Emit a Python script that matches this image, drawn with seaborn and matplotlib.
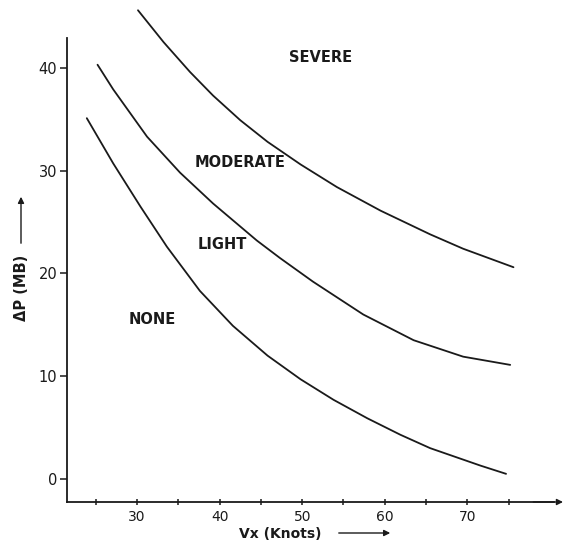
import matplotlib
matplotlib.use("Agg")
import matplotlib.pyplot as plt
import seaborn as sns
import pandas as pd

# Boundary curves (Vx in knots, ΔP in mb)
none_light_x = [23.9, 27.1, 30.4, 33.6, 37.6, 41.6, 45.8, 49.8, 53.8, 57.9, 61.9, 65.5, 71.6, 74.7]
none_light_y = [35.1, 30.7, 26.5, 22.6, 18.3, 14.9, 12.0, 9.7, 7.7, 5.9, 4.3, 3.0, 1.3, 0.5]

light_mod_x = [25.2, 27.1, 31.2, 35.2, 39.2, 44.5, 47.3, 51.3, 57.4, 63.5, 69.5, 75.2]
light_mod_y = [40.3, 37.9, 33.3, 29.8, 26.8, 23.2, 21.5, 19.2, 16.0, 13.5, 11.9, 11.1]

mod_sev_x = [30.1, 33.2, 36.4, 39.2, 42.5, 45.8, 49.8, 54.2, 59.5, 65.5, 69.5, 75.6]
mod_sev_y = [45.6, 42.5, 39.6, 37.3, 34.9, 32.8, 30.6, 28.4, 26.1, 23.8, 22.4, 20.6]

region_labels = ["SEVERE", "MODERATE", "LIGHT", "NONE"]
region_x = [52.2, 42.5, 40.3, 31.8]
region_y = [41.0, 30.8, 22.8, 15.5]

x_major = [30, 40, 50, 60, 70]
x_minor = [25, 35, 45, 55, 65, 75]
y_major = [0, 10, 20, 30, 40]

df = pd.concat([
    pd.DataFrame({"Vx": none_light_x, "dP": none_light_y, "curve": "none_light"}),
    pd.DataFrame({"Vx": light_mod_x, "dP": light_mod_y, "curve": "light_mod"}),
    pd.DataFrame({"Vx": mod_sev_x, "dP": mod_sev_y, "curve": "mod_sev"}),
])

sns.set_style("white")
plt.rcParams["font.family"] = ["DejaVu Sans"]

ink = "#1a1a1a"
fig = plt.figure(figsize=(5.65, 5.51), dpi=100)
W, H = 565, 551
ax = fig.add_axes([67 / W, 1 - 502 / H, (563 - 67) / W, (502 - 1) / H])

sns.lineplot(data=df, x="Vx", y="dP", units="curve", estimator=None, sort=False,
             color=ink, linewidth=1.3, ax=ax, legend=False,
             solid_joinstyle="round", solid_capstyle="round")

ax.set_xlim(21.5, 81.6)
ax.set_ylim(-2.24, 46.5)

for s in ["top", "right"]:
    ax.spines[s].set_visible(False)
for s in ["left", "bottom"]:
    ax.spines[s].set_color(ink)
    ax.spines[s].set_linewidth(1.3)
ax.spines["left"].set_bounds(-2.24, 42.9)
ax.spines["bottom"].set_bounds(21.5, 80.5)

# arrow head at the end of the x axis
ax.annotate("", xy=(81.6, -2.24), xytext=(78.0, -2.24),
            arrowprops=dict(arrowstyle="-|>", color=ink, lw=1.0,
                            mutation_scale=9, shrinkA=0, shrinkB=0),
            annotation_clip=False)

ax.set_xticks(x_major)
ax.set_xticks(x_minor, minor=True)
ax.set_yticks(y_major)
ax.set_xticklabels([str(v) for v in x_major])
ax.set_yticklabels([str(v) for v in y_major])
ax.tick_params(axis="x", which="both", direction="inout", length=5, width=1.1,
               color=ink, labelsize=10, labelcolor=ink, pad=3, bottom=True)
ax.tick_params(axis="y", which="both", direction="out", length=5, width=1.1,
               color=ink, labelsize=10.5, labelcolor=ink, pad=2, left=True)
ax.set_xlabel("")
ax.set_ylabel("")
ax.grid(False)

for lab, lx, ly in zip(region_labels, region_x, region_y):
    ax.text(lx, ly, lab, ha="center", va="center", fontsize=10.5,
            fontweight="bold", color=ink)

# axis titles with arrows (figure pixel coordinates)
fig.text(280 / W, 1 - 534 / H, "Vx (Knots)", ha="center", va="center",
         fontsize=10, fontweight="bold", color=ink)
fig.add_artist(matplotlib.patches.FancyArrowPatch(
    (336 / W, 1 - 533 / H), (393 / W, 1 - 533 / H), transform=fig.transFigure,
    arrowstyle="-|>", mutation_scale=9, color=ink, lw=1.0))

fig.text(21 / W, 1 - 288 / H, "ΔP (MB)", ha="center", va="center", rotation=90,
         fontsize=10.5, fontweight="bold", color=ink)
fig.add_artist(matplotlib.patches.FancyArrowPatch(
    (21 / W, 1 - 246 / H), (21 / W, 1 - 194 / H), transform=fig.transFigure,
    arrowstyle="-|>", mutation_scale=9, color=ink, lw=1.0))

fig.savefig("out.png", dpi=100, facecolor="white")
